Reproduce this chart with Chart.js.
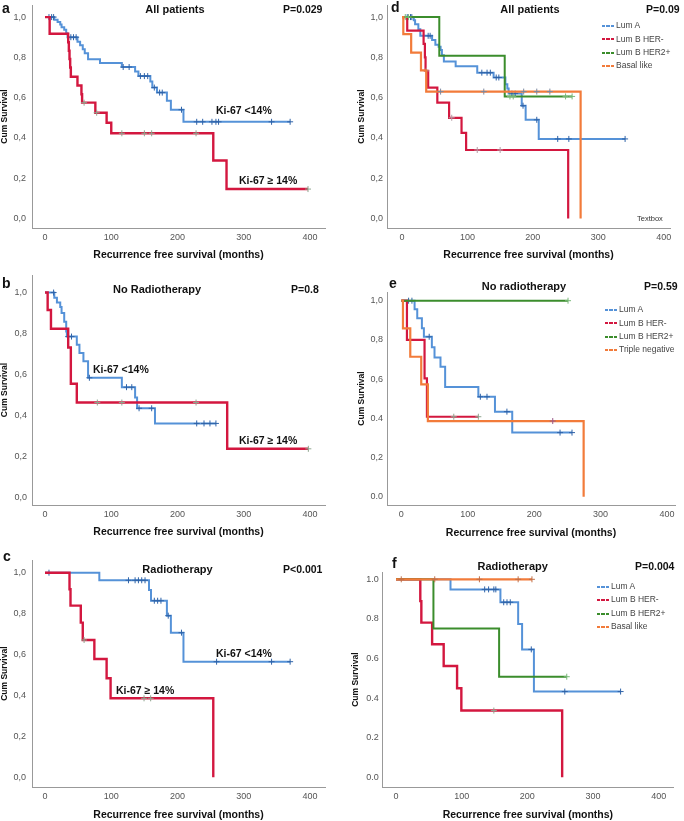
<!DOCTYPE html>
<html>
<head>
<meta charset="utf-8">
<title>Recurrence free survival</title>
<script src="https://cdn.jsdelivr.net/npm/chart.js@4.4.1/dist/chart.umd.min.js"></script>
<style>
  html, body { margin: 0; padding: 0; background: #fff; }
  #figure { position: relative; width: 684px; height: 821px; overflow: hidden; font-family: "Liberation Sans", Arial, sans-serif; }
  .panel { position: absolute; width: 342px; }
  .panel canvas { position: absolute; left: 0; top: 0; }
  .t { position: absolute; white-space: nowrap; line-height: 1; color: #111; font-weight: bold; transform: translateY(-50%); }
  .letter { font-size: 14px; }
  .title { font-size: 11px; transform: translate(-50%, -50%); }
  .pval { font-size: 10.5px; }
  .ki { font-size: 10.5px; }
  .legend { position: absolute; font-size: 8.5px; color: #444; }
  .legend div { height: 13.4px; line-height: 13.4px; white-space: nowrap; }
  .legend span { display: inline-block; width: 12px; height: 2px; vertical-align: middle; margin-right: 2px; }
  .textbox { position: absolute; font-size: 7.5px; color: #333; transform: translateY(-50%); }
</style>
</head>
<body>
<div id="figure">
  <div class="panel" style="left:0;top:0;height:270px">
    <canvas id="cv-a" width="342" height="270"></canvas>
    <div class="t letter" style="left:2px;top:8px">a</div>
    <div class="t title" style="left:175px;top:8.5px">All patients</div>
    <div class="t pval" style="left:283px;top:8.5px">P=0.029</div>
    <div class="t ki" style="left:216px;top:110px">Ki-67 &lt;14%</div>
    <div class="t ki" style="left:239px;top:180px">Ki-67 ≥ 14%</div>
  </div>
  <div class="panel" style="left:342px;top:0;height:270px">
    <canvas id="cv-d" width="342" height="270"></canvas>
    <div class="t letter" style="left:49px;top:7px">d</div>
    <div class="t title" style="left:188px;top:9.3px">All patients</div>
    <div class="t pval" style="left:304px;top:9.3px">P=0.09</div>
    <div class="legend" style="left:260px;top:19.3px">
      <div><span style="background:repeating-linear-gradient(90deg,#5592d8 0 3px,transparent 3px 4.5px)"></span>Lum A</div>
      <div><span style="background:repeating-linear-gradient(90deg,#d3173f 0 3px,transparent 3px 4.5px)"></span>Lum B HER-</div>
      <div><span style="background:repeating-linear-gradient(90deg,#3b8d2c 0 3px,transparent 3px 4.5px)"></span>Lum B HER2+</div>
      <div><span style="background:repeating-linear-gradient(90deg,#f27b3a 0 3px,transparent 3px 4.5px)"></span>Basal like</div>
    </div>
    <div class="textbox" style="left:295px;top:218px">Textbox</div>
  </div>
  <div class="panel" style="left:0;top:270px;height:270px">
    <canvas id="cv-b" width="342" height="270"></canvas>
    <div class="t letter" style="left:2px;top:12.7px">b</div>
    <div class="t title" style="left:157px;top:19px">No Radiotherapy</div>
    <div class="t pval" style="left:291px;top:19px">P=0.8</div>
    <div class="t ki" style="left:93px;top:99px">Ki-67 &lt;14%</div>
    <div class="t ki" style="left:239px;top:170px">Ki-67 ≥ 14%</div>
  </div>
  <div class="panel" style="left:342px;top:270px;height:270px">
    <canvas id="cv-e" width="342" height="270"></canvas>
    <div class="t letter" style="left:47px;top:13px">e</div>
    <div class="t title" style="left:182px;top:16px">No radiotherapy</div>
    <div class="t pval" style="left:302px;top:16px">P=0.59</div>
    <div class="legend" style="left:263px;top:33.3px">
      <div><span style="background:repeating-linear-gradient(90deg,#5592d8 0 3px,transparent 3px 4.5px)"></span>Lum A</div>
      <div><span style="background:repeating-linear-gradient(90deg,#d3173f 0 3px,transparent 3px 4.5px)"></span>Lum B HER-</div>
      <div><span style="background:repeating-linear-gradient(90deg,#3b8d2c 0 3px,transparent 3px 4.5px)"></span>Lum B HER2+</div>
      <div><span style="background:repeating-linear-gradient(90deg,#f27b3a 0 3px,transparent 3px 4.5px)"></span>Triple negative</div>
    </div>
  </div>
  <div class="panel" style="left:0;top:540px;height:281px">
    <canvas id="cv-c" width="342" height="281"></canvas>
    <div class="t letter" style="left:3px;top:16px">c</div>
    <div class="t title" style="left:177.5px;top:29.3px">Radiotherapy</div>
    <div class="t pval" style="left:283px;top:29.3px">P&lt;0.001</div>
    <div class="t ki" style="left:216px;top:112.7px">Ki-67 &lt;14%</div>
    <div class="t ki" style="left:116px;top:150px">Ki-67 ≥ 14%</div>
  </div>
  <div class="panel" style="left:342px;top:540px;height:281px">
    <canvas id="cv-f" width="342" height="281"></canvas>
    <div class="t letter" style="left:50px;top:23px">f</div>
    <div class="t title" style="left:170.7px;top:26px">Radiotherapy</div>
    <div class="t pval" style="left:293px;top:26px">P=0.004</div>
    <div class="legend" style="left:255px;top:40px">
      <div><span style="background:repeating-linear-gradient(90deg,#5592d8 0 3px,transparent 3px 4.5px)"></span>Lum A</div>
      <div><span style="background:repeating-linear-gradient(90deg,#d3173f 0 3px,transparent 3px 4.5px)"></span>Lum B HER-</div>
      <div><span style="background:repeating-linear-gradient(90deg,#3b8d2c 0 3px,transparent 3px 4.5px)"></span>Lum B HER2+</div>
      <div><span style="background:repeating-linear-gradient(90deg,#f27b3a 0 3px,transparent 3px 4.5px)"></span>Basal like</div>
    </div>
  </div>
</div>
<script>
// axis ticks
const xTicks = [0, 100, 200, 300, 400];
const xTickLabels = ['0', '100', '200', '300', '400'];
const yTicks = [0, 0.2, 0.4, 0.6, 0.8, 1.0];
const yLabelsComma = ['0,0', '0,2', '0,4', '0,6', '0,8', '1,0'];
const yLabelsMixed = ['0.0', '0,2', '0.4', '0,6', '0,8', '1,0'];
const yLabelsDot = ['0.0', '0.2', '0.4', '0.6', '0.8', '1.0'];

// a - all patients, Ki-67
const aLowTime = [0, 14, 19, 23, 25, 29, 32, 34, 49, 53, 57, 60, 65, 83, 116, 136, 141, 159, 162, 169, 184, 190, 209];
const aLowSurv = [1, 0.987, 0.976, 0.963, 0.95, 0.937, 0.92, 0.90, 0.878, 0.86, 0.84, 0.82, 0.79, 0.772, 0.752, 0.73, 0.707, 0.68, 0.65, 0.625, 0.585, 0.54, 0.48];
const aLowCens = [6, 10, 13, 39, 43, 47, 118, 127, 144, 150, 155, 165, 173, 177, 206, 229, 238, 252, 258, 262, 342, 370];
const aHighTime = [0, 7, 35, 36, 37, 38, 39, 49, 55, 56, 76, 93, 100, 254, 274];
const aHighSurv = [1, 0.917, 0.875, 0.833, 0.792, 0.75, 0.704, 0.66, 0.617, 0.575, 0.525, 0.475, 0.423, 0.288, 0.146];
const aHighCens = [59, 78, 116, 150, 161, 228, 397];

// b - no radiotherapy, Ki-67
const bLowTime = [0, 14, 18, 23, 25, 29, 32, 33, 48, 52, 58, 65, 116, 136, 139, 166];
const bLowSurv = [1, 0.974, 0.952, 0.93, 0.90, 0.858, 0.81, 0.785, 0.745, 0.705, 0.665, 0.584, 0.538, 0.487, 0.435, 0.361];
const bLowCens = [13, 35, 40, 67, 123, 131, 142, 161, 229, 240, 249, 258];
const bHighTime = [0, 4, 9, 35, 39, 48, 275];
const bHighSurv = [1, 0.915, 0.823, 0.732, 0.555, 0.463, 0.237];
const bHighCens = [79, 116, 228, 397.5];

// c - radiotherapy, Ki-67
const cLowTime = [0, 82, 157, 160, 184, 190, 209];
const cLowSurv = [1, 0.963, 0.915, 0.863, 0.79, 0.707, 0.565];
const cLowCens = [6, 126, 136, 141, 146, 151, 165, 170, 175, 186, 206, 259, 342, 370];
const cHighTime = [0, 37, 38.5, 54, 57, 74.5, 93, 99, 254];
const cHighSurv = [1, 0.919, 0.839, 0.756, 0.671, 0.578, 0.484, 0.386, 0];
const cHighCens = [59, 149.5, 159.5];

// d - all patients, subtypes
const dLumATime = [0, 18, 20, 25, 28, 46, 51, 56, 59, 61, 64, 82, 115, 140, 158, 161, 163, 183, 189, 209];
const dLumASurv = [1, 0.984, 0.964, 0.94, 0.907, 0.886, 0.862, 0.853, 0.837, 0.81, 0.78, 0.756, 0.724, 0.70, 0.667, 0.645, 0.62, 0.56, 0.49, 0.395];
const dLumACens = [8, 13, 15, 40, 43, 122, 130, 135, 144, 148, 168, 173, 185, 206, 238, 255, 341];
const dHerNegTime = [0, 8, 33, 35, 36, 40, 54, 72, 91, 98, 254];
const dHerNegSurv = [1, 0.933, 0.867, 0.80, 0.733, 0.65, 0.575, 0.50, 0.425, 0.34, 0];
const dHerNegCens = [37, 76, 115, 150];
const dHer2Time = [0, 57, 157];
const dHer2Surv = [1, 0.808, 0.606];
const dHer2Cens = [5, 10, 165, 170, 250, 260];
const dBasalTime = [0, 2, 14, 29, 37, 273];
const dBasalSurv = [1, 0.915, 0.824, 0.735, 0.63, 0];
const dBasalCens = [59, 125, 186, 206, 226];

// e - no radiotherapy, subtypes
const eLumATime = [0, 20, 24, 31, 34, 46, 50, 59, 66, 116, 141, 167];
const eLumASurv = [1, 0.956, 0.91, 0.86, 0.816, 0.762, 0.71, 0.663, 0.56, 0.51, 0.434, 0.327];
const eLumACens = [11, 16, 42, 119, 129, 159, 239, 257];
const eHerNegTime = [0, 8.5, 35, 38.6];
const eHerNegSurv = [1, 0.8, 0.604, 0.408];
const eHerNegCens = [79, 116];
const eHer2Time = [0];
const eHer2Surv = [1];
const eHer2Cens = [251];
const eTripleTime = [0, 2.5, 13.5, 30, 40, 274.5];
const eTripleSurv = [1, 0.859, 0.714, 0.573, 0.386, 0];
const eTripleCens = [228];

// f - radiotherapy, subtypes
const fLumATime = [0, 83, 159, 186, 192, 210];
const fLumASurv = [1, 0.949, 0.884, 0.774, 0.646, 0.433];
const fLumACens = [135, 141, 149, 152, 164, 169, 174, 206, 257, 342];
const fHerNegTime = [0, 37, 38.6, 55, 72.6, 93, 99.5, 253];
const fHerNegSurv = [1, 0.89, 0.781, 0.672, 0.562, 0.45, 0.337, 0];
const fHerNegCens = [149];
const fHer2Time = [0, 57, 157];
const fHer2Surv = [1, 0.752, 0.508];
const fHer2Cens = [260];
const fBasalTime = [0];
const fBasalSurv = [1];
const fBasalCens = [8, 59, 127, 186, 207];

const blue = '#5592d8', red = '#d3173f', green = '#3b8d2c', orange = '#f27b3a';
const fontFamily = '"Liberation Sans", Arial, sans-serif';

function survAt(times, surv, t) {
  let s = surv[0];
  for (let i = 0; i < times.length; i++) {
    if (times[i] <= t) s = surv[i];
  }
  return s;
}

// one KM curve = stepped line + censor crosses
function kmDatasets(times, surv, cens, color, censColor, width, rank) {
  const pts = times.map((t, i) => ({ x: t, y: surv[i] }));
  const end = Math.max(times[times.length - 1], ...cens);
  if (end > times[times.length - 1]) pts.push({ x: end, y: surv[surv.length - 1] });
  const marks = cens.map(t => ({ x: t, y: survAt(times, surv, t) }));
  return [
    { data: marks, showLine: false, pointStyle: 'cross', pointRadius: 3, pointBorderWidth: 1,
      pointBorderColor: censColor, pointBackgroundColor: censColor, borderColor: censColor, order: rank * 2 },
    { data: pts, stepped: true, borderColor: color, borderWidth: width, pointRadius: 0,
      fill: false, order: rank * 2 + 1 }
  ];
}

// panel geometry (pixels inside each canvas)
const panels = [
  { id: 'a', w: 342, h: 270, L: 32, R: 325, T: 1, B: 228, x0: 45, x400: 310, y1: 13.3, y0: 218.3,
    yLabels: yLabelsComma, yPad: 6, yTitlePad: 0, xTitlePad: 8.7,
    sets: [
      ...kmDatasets(aHighTime, aHighSurv, aHighCens, red, '#8fa58f', 2.4, 0),
      ...kmDatasets(aLowTime, aLowSurv, aLowCens, blue, '#2f63a8', 2, 1)
    ] },
  { id: 'd', w: 342, h: 270, L: 45, R: 328, T: 1, B: 228, x0: 60, x400: 321.7, y1: 13.3, y0: 218.3,
    yLabels: yLabelsComma, yPad: 4, yTitlePad: 14.6, xTitlePad: 8.7,
    sets: [
      ...kmDatasets(dBasalTime, dBasalSurv, dBasalCens, orange, '#7b88a0', 2.2, 0),
      ...kmDatasets(dHer2Time, dHer2Surv, dHer2Cens, green, '#78b878', 2, 1),
      ...kmDatasets(dHerNegTime, dHerNegSurv, dHerNegCens, red, '#b59aa5', 2.2, 2),
      ...kmDatasets(dLumATime, dLumASurv, dLumACens, blue, '#2f63a8', 2, 3)
    ] },
  { id: 'b', w: 342, h: 270, L: 32, R: 325, T: 3, B: 235, x0: 45, x400: 310, y1: 20.7, y0: 227.3,
    yLabels: yLabelsComma, yPad: 5, yTitlePad: 0, xTitlePad: 2,
    sets: [
      ...kmDatasets(bHighTime, bHighSurv, bHighCens, red, '#8fa58f', 2.4, 0),
      ...kmDatasets(bLowTime, bLowSurv, bLowCens, blue, '#2f63a8', 2, 1)
    ] },
  { id: 'e', w: 342, h: 270, L: 45, R: 333, T: 22, B: 235, x0: 59.3, x400: 325, y1: 30.7, y0: 226.7,
    yLabels: yLabelsMixed, yPad: 4, yTitlePad: 14.6, xTitlePad: 0.5,
    sets: [
      ...kmDatasets(eTripleTime, eTripleSurv, eTripleCens, orange, '#9a5a8a', 2.2, 0),
      ...kmDatasets(eHer2Time, eHer2Surv, eHer2Cens, green, '#78b878', 2, 1),
      ...kmDatasets(eHerNegTime, eHerNegSurv, eHerNegCens, red, '#8fa58f', 2.2, 2),
      ...kmDatasets(eLumATime, eLumASurv, eLumACens, blue, '#2f63a8', 2, 3)
    ] },
  { id: 'c', w: 342, h: 281, L: 32, R: 325, T: 20, B: 247.3, x0: 45, x400: 310, y1: 32.7, y0: 237.3,
    yLabels: yLabelsComma, yPad: 6, yTitlePad: 0, xTitlePad: 0,
    sets: [
      ...kmDatasets(cHighTime, cHighSurv, cHighCens, red, '#8fa58f', 2.4, 0),
      ...kmDatasets(cLowTime, cLowSurv, cLowCens, blue, '#2f63a8', 2, 1)
    ] },
  { id: 'f', w: 342, h: 281, L: 40.7, R: 331, T: 32, B: 247.3, x0: 54, x400: 316.7, y1: 39.3, y0: 237.3,
    yLabels: yLabelsDot, yPad: 4, yTitlePad: 8.6, xTitlePad: 0,
    sets: [
      ...kmDatasets(fBasalTime, fBasalSurv, fBasalCens, orange, '#c0704a', 2.2, 0),
      ...kmDatasets(fHer2Time, fHer2Surv, fHer2Cens, green, '#78b878', 2, 1),
      ...kmDatasets(fHerNegTime, fHerNegSurv, fHerNegCens, red, '#8fa58f', 2.4, 2),
      ...kmDatasets(fLumATime, fLumASurv, fLumACens, blue, '#2f63a8', 2, 3)
    ] }
];

panels.forEach(p => {
  const xs = 400 / (p.x400 - p.x0);
  const ys = 1 / (p.y0 - p.y1);
  new Chart(document.getElementById('cv-' + p.id), {
    type: 'line',
    data: { datasets: p.sets },
    options: {
      responsive: false,
      animation: false,
      layout: { padding: { left: 0, top: p.T, right: p.w - p.R, bottom: 0 } },
      plugins: { legend: { display: false }, tooltip: { enabled: false } },
      scales: {
        x: {
          type: 'linear',
          min: -(p.x0 - p.L) * xs,
          max: 400 + (p.R - p.x400) * xs,
          grid: { display: false, drawTicks: false },
          border: { display: true, color: '#999', width: 1 },
          ticks: { autoSkip: false, maxRotation: 0, padding: 4, color: '#555',
                   font: { family: fontFamily, size: 9 }, callback: (v, i) => xTickLabels[i] },
          afterBuildTicks: sc => { sc.ticks = xTicks.map(v => ({ value: v })); },
          afterFit: sc => { sc.height = p.h - p.B; sc.paddingLeft = 0; sc.paddingRight = 0; },
          title: { display: true, text: 'Recurrence free survival (months)', color: '#111',
                   font: { family: fontFamily, size: 10.5, weight: 'bold' },
                   padding: { top: 0, bottom: p.xTitlePad } }
        },
        y: {
          type: 'linear',
          min: -(p.B - p.y0) * ys,
          max: 1 + (p.y1 - p.T) * ys,
          grid: { display: false, drawTicks: false },
          border: { display: true, color: '#999', width: 1 },
          ticks: { autoSkip: false, padding: p.yPad, color: '#555',
                   font: { family: fontFamily, size: 9 }, callback: (v, i) => p.yLabels[i] },
          afterBuildTicks: sc => { sc.ticks = yTicks.map(v => ({ value: v })); },
          afterFit: sc => { sc.width = p.L; sc.paddingTop = 0; sc.paddingBottom = 0; },
          title: { display: true, text: 'Cum Survival', color: '#111',
                   font: { family: fontFamily, size: 8.5, weight: 'bold' },
                   padding: { top: p.yTitlePad, bottom: 0 } }
        }
      }
    }
  });
});
</script>
</body>
</html>
